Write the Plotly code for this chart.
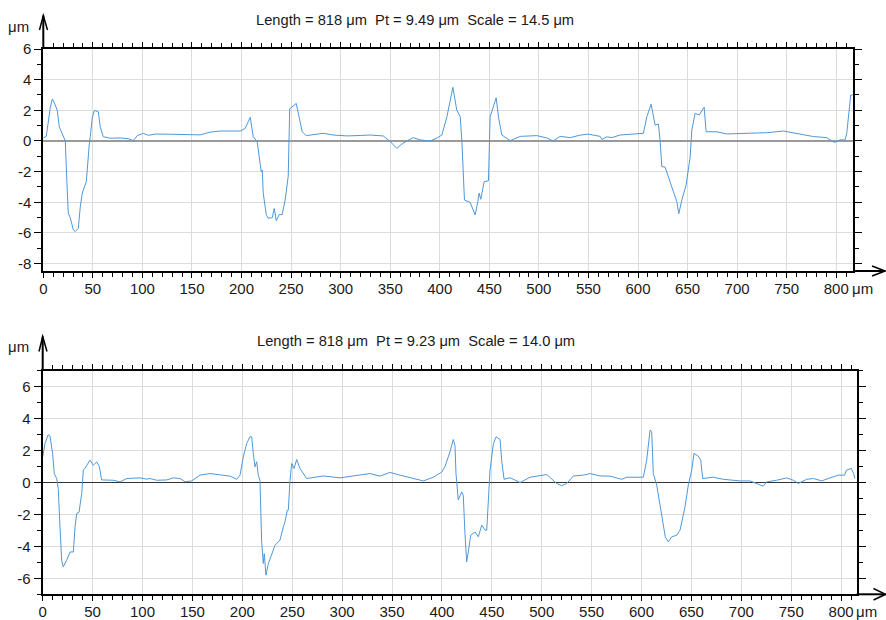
import plotly.graph_objects as go

W, H = 886, 620

# ---------------- data (μm) ----------------
top_x = [0.0, 3.0, 7.1, 9.1, 11.1, 14.1, 16.1, 20.2, 22.2, 23.7, 25.2, 27.2, 30.3, 32.3, 35.3, 37.3,
         39.3, 43.4, 45.4, 46.4, 47.4, 49.4, 51.4, 55.5, 57.5, 60.5, 67.6, 77.7, 85.7, 90.8, 94.8,
         100.9, 105.9, 113.0, 128.1, 148.3, 158.3, 168.4, 178.5, 198.7, 203.7, 208.8, 211.8, 215.8,
         218.9, 219.9, 220.9, 221.9, 224.9, 226.9, 231.0, 233.0, 235.0, 238.0, 241.0, 244.1, 247.1,
         248.1, 248.6, 255.2, 257.2, 261.2, 265.3, 282.4, 292.5, 306.6, 319.7, 329.8, 342.9, 350.0,
         356.7, 361.8, 366.8, 373.2, 380.2, 390.3, 397.4, 402.1, 407.2, 413.2, 417.2, 420.6, 422.3,
         424.1, 424.9, 430.6, 433.0, 435.7, 438.4, 439.7, 441.4, 444.8, 449.1, 450.1, 450.8, 456.9,
         459.2, 462.6, 471.0, 481.1, 497.9, 508.0, 514.4, 521.4, 531.5, 541.6, 549.7, 561.8, 563.5,
         568.5, 573.6, 581.9, 592.0, 605.4, 608.9, 613.2, 617.2, 620.6, 622.3, 624.0, 627.3, 630.7,
         635.7, 639.1, 641.1, 644.2, 648.5, 652.5, 654.3, 657.6, 661.9, 664.3, 666.7, 668.7, 679.5,
         689.6, 709.7, 729.9, 746.6, 763.5, 776.9, 790.4, 798.1, 803.8, 808.9, 810.6, 814.6, 816.6]
top_y = [0.2, 0.3, 2.2, 2.74, 2.5, 2.0, 0.93, 0.3, 0.0, -2.5, -4.7, -5.0, -5.8, -5.9, -5.7, -4.3,
         -3.4, -2.65, -0.8, -0.2, 0.3, 1.5, 2.0, 1.9, 0.9, 0.28, 0.18, 0.2, 0.15, 0.02, 0.35,
         0.5, 0.37, 0.45, 0.44, 0.4, 0.4, 0.58, 0.65, 0.65, 0.82, 1.55, 0.28, -0.05,
         -1.67, -2.0, -1.9, -3.4, -4.8, -5.04, -5.0, -4.4, -5.2, -4.8, -4.8, -3.8, -2.3,
         0.0, 2.1, 2.45, 1.8, 0.6, 0.35, 0.5, 0.39, 0.33, 0.36, 0.39, 0.33, -0.04,
         -0.48, -0.2, 0.0, 0.22, 0.07, 0.0, 0.2, 0.39, 1.58, 3.5, 2.0, 1.6, 0.0,
         -3.0, -3.85, -4.0, -4.4, -4.82, -3.95, -3.4, -3.8, -2.65, -2.6, 0.0, 1.58, 2.82,
         1.58, 0.39, 0.02, 0.3, 0.35, 0.2, 0.0, 0.3, 0.22, 0.38, 0.45, 0.3, 0.1,
         0.27, 0.22, 0.39, 0.44, 0.5, 1.58, 2.4, 1.04, 1.1, 0.0, -1.67, -1.7, -2.3,
         -3.3, -3.95, -4.75, -3.85, -2.87, -1.1, 0.72, 1.8, 1.7, 1.97, 2.2, 0.6, 0.6,
         0.46, 0.5, 0.54, 0.65, 0.44, 0.29, 0.22, -0.1, 0.07, 0.07, 0.5, 3.0, 3.0]

bot_x = [0.0, 2.3, 5.6, 7.3, 10.0, 11.6, 14.0, 15.6, 17.3, 19.0, 20.6, 24.0, 27.4, 30.7, 32.4, 34.1,
         36.4, 39.1, 40.7, 42.4, 47.4, 50.7, 54.1, 56.7, 59.1, 70.7, 77.5, 84.2, 97.5, 104.2, 107.5,
         114.2, 124.2, 130.9, 137.6, 142.6, 149.3, 157.6, 167.6, 177.7, 187.7, 194.4, 197.7, 201.0,
         204.4, 207.7, 209.4, 211.0, 212.7, 214.4, 216.0, 217.7, 219.4, 221.0, 222.0, 223.7, 226.1,
         228.5, 232.8, 236.1, 237.8, 241.1, 242.8, 245.1, 246.1, 247.8, 249.5, 251.8, 254.5, 257.8,
         262.8, 264.5, 281.2, 297.9, 311.2, 317.9, 327.9, 337.9, 347.9, 357.9, 371.3, 381.4, 391.4,
         399.8, 403.1, 408.1, 411.4, 413.1, 414.1, 416.4, 419.8, 421.4, 423.1, 424.8, 426.4, 428.9,
         433.2, 436.5, 439.9, 443.2, 444.9, 446.5, 448.2, 451.6, 454.3, 458.3, 460.0, 462.3, 468.3,
         478.3, 488.3, 505.0, 515.0, 520.0, 525.1, 531.7, 541.7, 548.4, 558.4, 568.4, 580.2, 585.2,
         601.8, 605.2, 608.5, 610.2, 611.8, 615.2, 618.5, 621.8, 623.8, 626.8, 630.3, 635.3, 638.6,
         643.6, 646.9, 650.3, 652.6, 656.9, 659.3, 661.3, 671.9, 681.9, 698.7, 708.7, 715.4, 722.0,
         725.4, 735.4, 745.5, 752.1, 757.1, 765.5, 772.2, 780.6, 788.9, 797.2, 803.5, 805.2, 810.2,
         812.5, 813.8]
bot_y = [1.6, 2.44, 3.0, 2.9, 1.8, 0.56, 0.25, -0.38, -2.78, -4.87, -5.28, -4.87, -4.35, -4.35, -2.78, -1.94,
         -1.85, -0.69, 0.77, 0.9, 1.4, 1.08, 1.29, 1.0, 0.16, 0.14, 0.04, 0.25, 0.29, 0.21, 0.25,
         0.14, 0.16, 0.29, 0.25, 0.04, 0.1, 0.46, 0.56, 0.46, 0.4, 0.2, 0.46, 1.6,
         2.44, 2.86, 2.86, 1.82, 0.98, 1.3, 0.45, 0.14, -3.7, -5.07, -4.45, -5.8, -5.07,
         -4.66, -3.93, -3.72, -3.6, -2.78, -2.46, -1.73, -1.73, 0.14, 1.19, 0.88, 1.44, 0.88,
         0.35, 0.25, 0.41, 0.29, 0.41, 0.46, 0.56, 0.4, 0.63, 0.46, 0.25, 0.1, 0.33,
         0.65, 1.0, 1.92, 2.69, 2.3, 0.56, -1.1, -0.59, -0.8, -3.2, -4.97, -4.35, -3.3,
         -3.1, -3.4, -2.67, -2.98, -3.0, -1.1, 0.77, 2.44, 2.86, 2.69, 1.3, 0.2, 0.3,
         0.0, 0.33, 0.5, -0.06, -0.2, -0.06, 0.41, 0.46, 0.56, 0.41, 0.4, 0.2, 0.33,
         0.33, 1.4, 3.27, 3.2, 0.56, -0.15, -1.3, -2.57, -3.4, -3.72, -3.4, -3.3, -2.98,
         -1.52, -0.15, 0.77, 1.82, 1.65, 1.4, 0.25, 0.33, 0.2, 0.1, 0.1, -0.06, -0.23,
         0.04, 0.14, 0.29, 0.14, -0.06, 0.2, 0.25, 0.1, 0.29, 0.46, 0.46, 0.77, 0.88,
         0.56, 0.25]

x_tickvals = [0, 50, 100, 150, 200, 250, 300, 350, 400, 450, 500, 550, 600, 650, 700, 750, 800]
x_ticktext = ["0", "50", "100", "150", "200", "250", "300", "350", "400", "450", "500", "550",
              "600", "650", "700", "750", "800"]
top_y_tickvals = [6, 4, 2, 0, -2, -4, -6, -8]
top_y_ticktext = ["6", "4", "2", "0", "-2", "-4", "-6", "-8"]
bot_y_tickvals = [6, 4, 2, 0, -2, -4, -6]
bot_y_ticktext = ["6", "4", "2", "0", "-2", "-4", "-6"]

top_title = "Length = 818 μm\u00a0\u00a0Pt = 9.49 μm\u00a0\u00a0Scale = 14.5 μm"
bot_title = "Length = 818 μm\u00a0\u00a0Pt = 9.23 μm\u00a0\u00a0Scale = 14.0 μm"
unit = "μm"

# ---------------- helpers ----------------
FONT = "Liberation Sans, Arial, Helvetica, sans-serif"
LINE_COLOR = "#4f98d8"
TXT = "#1a1a1a"


def px(x):
    return x / W


def py(y):
    return 1 - y / H


def xaxis(domain, rng, anchor):
    return dict(domain=domain, range=rng, anchor=anchor,
                tickmode="array", tickvals=x_tickvals, ticktext=x_ticktext,
                ticks="outside", ticklen=5, tickwidth=1, tickcolor="#000",
                ticklabelstandoff=-2,
                showline=True, linecolor="#000", linewidth=2, mirror="ticks",
                showgrid=True, gridcolor="#dcdcdc", gridwidth=1, zeroline=False,
                tickfont=dict(family=FONT, size=15, color=TXT),
                minor=dict(tick0=0, dtick=10, ticks="outside", ticklen=4,
                           tickcolor="#000", tickwidth=1, showgrid=False),
                fixedrange=True)


def yaxis(domain, rng, anchor, tv, tt, zc, zw):
    return dict(domain=domain, range=rng, anchor=anchor,
                tickmode="array", tickvals=tv, ticktext=tt,
                ticks="outside", ticklen=7, tickwidth=1, tickcolor="#000",
                showline=True, linecolor="#000", linewidth=2, mirror="ticks",
                showgrid=True, gridcolor="#dcdcdc", gridwidth=1,
                zeroline=True, zerolinecolor=zc, zerolinewidth=zw,
                tickfont=dict(family=FONT, size=15, color=TXT),
                minor=dict(tick0=0, dtick=1, ticks="outside", ticklen=4,
                           tickcolor="#000", tickwidth=1, showgrid=False),
                fixedrange=True)


fig = go.Figure()
fig.add_trace(go.Scatter(x=top_x, y=top_y, mode="lines", xaxis="x", yaxis="y",
                         line=dict(color=LINE_COLOR, width=1), showlegend=False,
                         hoverinfo="skip"))
fig.add_trace(go.Scatter(x=bot_x, y=bot_y, mode="lines", xaxis="x2", yaxis="y2",
                         line=dict(color=LINE_COLOR, width=1), showlegend=False,
                         hoverinfo="skip"))

# plot-area geometry (pixels)
T_L, T_R, T_T, T_B = 43.3, 853.3, 49.0, 271.0
B_L, B_R, B_T, B_B = 42.7, 856.7, 370.7, 594.3

fig.update_layout(
    width=W, height=H,
    margin=dict(l=0, r=0, t=0, b=0, autoexpand=False),
    paper_bgcolor="#ffffff", plot_bgcolor="#ffffff",
    font=dict(family=FONT, size=14, color=TXT),
    xaxis=xaxis([px(T_L), px(T_R)], [0, 817.2], "y"),
    yaxis=yaxis([py(T_B), py(T_T)], [-8.48, 6.0], "x", top_y_tickvals, top_y_ticktext,
                "#9a9a9a", 2),
    xaxis2=xaxis([px(B_L), px(B_R)], [0, 815.6], "y2"),
    yaxis2=yaxis([py(B_B), py(B_T)], [-7.0, 7.0], "x2", bot_y_tickvals, bot_y_ticktext,
                 "#333333", 1),
)

ann = []
for text, (cx, cy) in [(top_title, (414.5, 19.5)), (bot_title, (416, 341))]:
    ann.append(dict(text=text, x=px(cx), y=py(cy), xref="paper", yref="paper",
                    xanchor="center", yanchor="middle", showarrow=False,
                    font=dict(family=FONT, size=14.7, color=TXT)))
for (cx, cy) in [(18, 26), (18, 346.5), (862, 288.5), (866, 611.5)]:
    ann.append(dict(text=unit, x=px(cx), y=py(cy), xref="paper", yref="paper",
                    xanchor="center", yanchor="middle", showarrow=False,
                    font=dict(family=FONT, size=15, color=TXT)))
fig.update_layout(annotations=ann)


def seg(x0, y0, x1, y1, w=2):
    return dict(type="line", xref="paper", yref="paper", x0=px(x0), y0=py(y0),
                x1=px(x1), y1=py(y1), line=dict(color="#000", width=w), layer="above")


def chevron(pts, w=1.5):
    d = "M " + " L ".join(f"{px(a)},{py(b)}" for a, b in pts)
    return dict(type="path", xref="paper", yref="paper", path=d,
                line=dict(color="#000", width=w), layer="above")


shapes = [
    # top panel arrows
    seg(T_L, T_T, T_L, 15.5),
    chevron([(39.5, 30), (T_L, 15.5), (47.5, 30)]),
    seg(T_R, T_B, 885, T_B),
    chevron([(872, 266), (885, T_B), (872, 276)]),
    # bottom panel arrows
    seg(B_L, B_T, B_L, 336.5),
    chevron([(39, 351.5), (B_L, 336.5), (47, 351.5)]),
    seg(B_R, B_B, 885.5, B_B),
    chevron([(873.5, 588.5), (885.5, B_B), (873.5, 600)]),
]
fig.update_layout(shapes=shapes)

fig.write_html("out.html")
